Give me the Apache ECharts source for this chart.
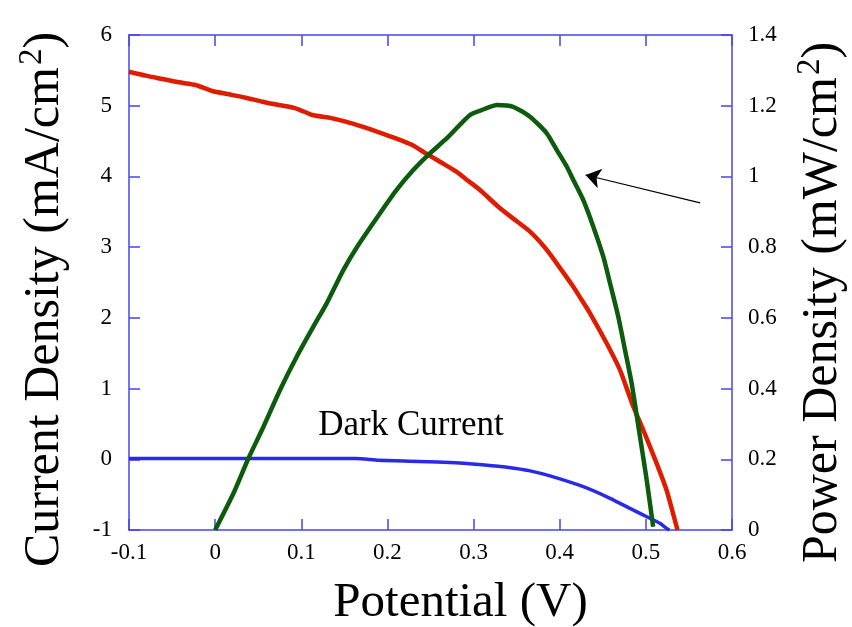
<!DOCTYPE html>
<html>
<head>
<meta charset="utf-8">
<script src="https://cdn.jsdelivr.net/npm/echarts@6/dist/echarts.min.js"></script>
<style>
html,body{margin:0;padding:0;background:#fff;}
#chart{width:852px;height:627px;}
</style>
</head>
<body>
<div id="chart"></div>
<script>
// ---- Data ----
// Illuminated current density (mA/cm2) vs potential (V)
const lightPotential = [-0.1, -0.0806, -0.0613, -0.042, -0.0226, -0.0033, 0.0161, 0.0355, 0.0548, 0.0741, 0.0935, 0.1128, 0.1322, 0.1516, 0.1709, 0.1902, 0.2096, 0.2289, 0.2444, 0.262, 0.280, 0.2935, 0.3075, 0.3307, 0.3465, 0.3655, 0.377, 0.385, 0.3965, 0.4158, 0.4236, 0.4352, 0.4545, 0.470, 0.4778, 0.4855, 0.497, 0.5125, 0.524, 0.5357, 0.5368];
const lightCurrent   = [5.48, 5.425, 5.378, 5.331, 5.293, 5.208, 5.161, 5.113, 5.057, 5.010, 4.963, 4.869, 4.831, 4.774, 4.703, 4.624, 4.539, 4.444, 4.327, 4.20, 4.067, 3.94, 3.808, 3.549, 3.40, 3.22, 3.077, 2.96, 2.771, 2.44, 2.29, 2.064, 1.64, 1.262, 1.003, 0.743, 0.414, -0.057, -0.435, -0.954, -1.0];

// Power density (mW/cm2) vs potential (V)
const powerPotential = [0.0, 0.0213, 0.0387, 0.0561, 0.0753, 0.0947, 0.114, 0.1295, 0.1488, 0.1662, 0.1914, 0.2100, 0.230, 0.2475, 0.269, 0.2958, 0.312, 0.327, 0.346, 0.3655, 0.385, 0.3965, 0.4081, 0.4158, 0.4274, 0.439, 0.4506, 0.4584, 0.468, 0.4758, 0.4835, 0.489, 0.495, 0.501, 0.5085];
const powerDensity   = [0.0, 0.104, 0.203, 0.292, 0.396, 0.490, 0.575, 0.641, 0.735, 0.806, 0.896, 0.96, 1.018, 1.061, 1.108, 1.174, 1.19, 1.202, 1.197, 1.169, 1.122, 1.075, 1.028, 0.990, 0.933, 0.858, 0.773, 0.698, 0.603, 0.509, 0.415, 0.33, 0.236, 0.141, 0.009];

// Dark current density (mA/cm2) vs potential (V)
const darkPotential = [-0.1, 0.0, 0.1, 0.1635, 0.19, 0.2367, 0.2793, 0.3025, 0.3257, 0.349, 0.3644, 0.3887, 0.4274, 0.4584, 0.4855, 0.501, 0.5164, 0.524, 0.5275];
const darkCurrent   = [0.01, 0.01, 0.01, 0.01, -0.015, -0.03, -0.05, -0.07, -0.095, -0.13, -0.16, -0.235, -0.388, -0.552, -0.718, -0.812, -0.906, -0.977, -1.0];

// Axis ticks
const xTicks = [-0.1, 0, 0.1, 0.2, 0.3, 0.4, 0.5, 0.6];
const yLeftTicks = [-1, 0, 1, 2, 3, 4, 5, 6];
const yRightTicks = [0, 0.2, 0.4, 0.6, 0.8, 1, 1.2, 1.4];

// Annotations
const darkLabel = {text: 'Dark Current', x: 0.2274, y: 0.47};
const arrowFrom = [0.563, 0.925];
const arrowTo = [0.430, 1.004];

// ---- Chart ----
const pairs = (xs, ys) => xs.map((x, i) => [x, ys[i]]);
const fmt = v => String(+(+v).toFixed(1));
const AX = '#4646ec';
const FONT = '"Liberation Serif", "Times New Roman", serif';

const chart = echarts.init(document.getElementById('chart'), null, {renderer: 'canvas'});

const axisCommon = {
  axisLine: {show: true, onZero: false, lineStyle: {color: AX, width: 1.5}},
  axisTick: {show: true, inside: true, length: 11, lineStyle: {color: AX, width: 1.5}},
  splitLine: {show: false},
  axisLabel: {color: '#000', fontFamily: FONT, fontSize: 23}
};

const richTitle = {
  t: {fontFamily: FONT, fontSize: 50, color: '#000'},
  s: {fontFamily: FONT, fontSize: 33, color: '#000', verticalAlign: 'top', padding: [0, 0, 24, 2]}
};

chart.setOption({
  backgroundColor: '#fff',
  animation: false,
  grid: {left: 129, right: 120, top: 35, bottom: 97, containLabel: false, outerBoundsMode: 'none'},
  xAxis: [
    Object.assign({}, axisCommon, {
      type: 'value', position: 'bottom',
      min: xTicks[0], max: xTicks[xTicks.length - 1], interval: 0.1,
      axisLabel: Object.assign({}, axisCommon.axisLabel, {margin: 11, formatter: fmt}),
      name: 'Potential (V)', nameLocation: 'middle', nameGap: 49,
      nameTextStyle: {color: '#000', fontFamily: FONT, fontSize: 49, padding: [0, 0, 0, 60]}
    }),
    Object.assign({}, axisCommon, {
      type: 'value', position: 'top',
      min: xTicks[0], max: xTicks[xTicks.length - 1], interval: 0.1,
      axisLabel: {show: false}
    })
  ],
  yAxis: [
    Object.assign({}, axisCommon, {
      type: 'value', position: 'left',
      min: yLeftTicks[0], max: yLeftTicks[yLeftTicks.length - 1], interval: 1,
      axisLabel: Object.assign({}, axisCommon.axisLabel, {margin: 17, formatter: fmt}),
      name: '{t|Current Density (mA/cm}{s|2}{t|)}', nameLocation: 'middle', nameGap: 56,
      nameTextStyle: {color: '#000', fontFamily: FONT, fontSize: 50, padding: [0, 34, 0, 0], rich: richTitle}
    }),
    Object.assign({}, axisCommon, {
      type: 'value', position: 'right',
      min: yRightTicks[0], max: yRightTicks[yRightTicks.length - 1], interval: 0.2,
      axisLabel: Object.assign({}, axisCommon.axisLabel, {margin: 16, formatter: fmt}),
      name: '{t|Power Density (mW/cm}{s|2}{t|)}', nameLocation: 'middle', nameGap: 62,
      nameTextStyle: {color: '#000', fontFamily: FONT, fontSize: 50, padding: [0, 40, 0, 0], rich: richTitle}
    })
  ],
  series: [
    {
      name: 'Dark Current', type: 'line', xAxisIndex: 0, yAxisIndex: 0,
      data: pairs(darkPotential, darkCurrent),
      showSymbol: false, smooth: 0.2,
      lineStyle: {color: '#2a2ae6', width: 3.5},
      markPoint: {
        silent: true, symbol: 'circle', symbolSize: 1,
        itemStyle: {color: 'rgba(0,0,0,0)'},
        label: {show: true, position: 'inside', formatter: darkLabel.text,
                color: '#000', fontFamily: FONT, fontSize: 35},
        data: [{coord: [darkLabel.x, darkLabel.y]}]
      }
    },
    {
      name: 'Light Current', type: 'line', xAxisIndex: 0, yAxisIndex: 0,
      data: pairs(lightPotential, lightCurrent),
      showSymbol: false, smooth: 0.2,
      lineStyle: {color: '#dd1c00', width: 4.5}
    },
    {
      name: 'Power', type: 'line', xAxisIndex: 0, yAxisIndex: 1,
      data: pairs(powerPotential, powerDensity),
      showSymbol: false, smooth: 0.2,
      lineStyle: {color: '#0d5c0d', width: 4.5},
      markLine: {
        silent: true, symbol: ['none', 'arrow'], symbolSize: 15,
        lineStyle: {color: '#000', width: 1.2, type: 'solid'},
        label: {show: false},
        data: [[{coord: arrowFrom}, {coord: arrowTo}]]
      }
    }
  ]
});
</script>
</body>
</html>
